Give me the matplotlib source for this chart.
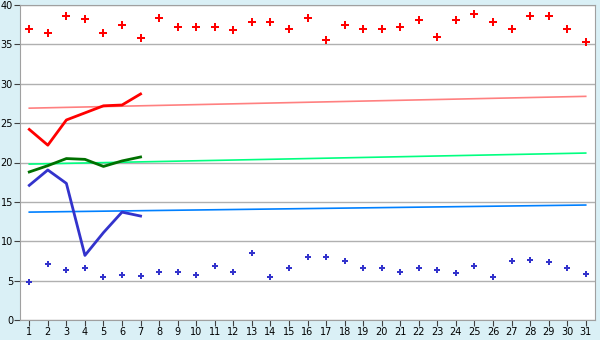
import matplotlib
matplotlib.use("Agg")
import matplotlib.pyplot as plt

# 日期
days = list(range(1, 32))
days_line = list(range(1, 8))

# 红色散点
red_pts = [36.9, 36.4, 38.6, 38.2, 36.4, 37.4, 35.8, 38.4, 37.2, 37.2,
           37.2, 36.8, 37.8, 37.9, 37.0, 38.3, 35.6, 37.4, 37.0, 37.0,
           37.2, 38.05, 36.0, 38.05, 38.9, 37.9, 37.0, 38.6, 38.6, 36.9, 35.3]
# 蓝色散点
blue_pts = [4.8, 7.07, 6.3, 6.55, 5.4, 5.67, 5.55, 6.05, 6.05, 5.67,
            6.8, 6.05, 8.47, 5.4, 6.55, 7.96, 7.96, 7.45, 6.55, 6.55,
            6.05, 6.55, 6.3, 5.93, 6.8, 5.4, 7.45, 7.58, 7.33, 6.55, 5.8]

# 前7天的折线
red_line = [24.2, 22.2, 25.4, 26.3, 27.2, 27.3, 28.7]
green_line = [18.8, 19.6, 20.5, 20.4, 19.5, 20.2, 20.7]
blue_line = [17.1, 19.05, 17.35, 8.2, 11.1, 13.7, 13.2]

# 趋势线 (第1天, 第31天)
trend_x = [1, 31]
pink_trend = [26.9, 28.4]
lgreen_trend = [19.8, 21.2]
lblue_trend = [13.7, 14.6]

fig = plt.figure(figsize=(6, 3.4), dpi=100)
fig.patch.set_facecolor('#daf0f6')
ax = fig.add_axes([20 / 600, 20 / 340, 575 / 600, 315 / 340])
ax.set_facecolor('white')

ax.plot(trend_x, pink_trend, color='#ff8080', lw=1.2)
ax.plot(trend_x, lgreen_trend, color='#00ff80', lw=1.2)
ax.plot(trend_x, lblue_trend, color='#0080ff', lw=1.2)

ax.plot(days_line, red_line, color='#ff0000', lw=2)
ax.plot(days_line, green_line, color='#007000', lw=2)
ax.plot(days_line, blue_line, color='#3333cc', lw=2)

ax.scatter(days, red_pts, marker='P', s=34, color='#ff0000', linewidths=0, zorder=3)
ax.scatter(days, blue_pts, marker='P', s=24, color='#3333cc', linewidths=0, zorder=3)

ax.set_xlim(0.5, 31.5)
ax.set_ylim(0, 40)
ax.set_xticks(days)
ax.set_yticks(range(0, 41, 5))
ax.yaxis.grid(True, color='#b0b0b0', lw=1)
ax.set_axisbelow(True)
for s in ax.spines.values():
    s.set_color('#a0a0a0')
ax.tick_params(axis='both', labelsize=7, length=4, color='#404040', pad=1)

plt.savefig("out.png", dpi=100, facecolor=fig.get_facecolor())
